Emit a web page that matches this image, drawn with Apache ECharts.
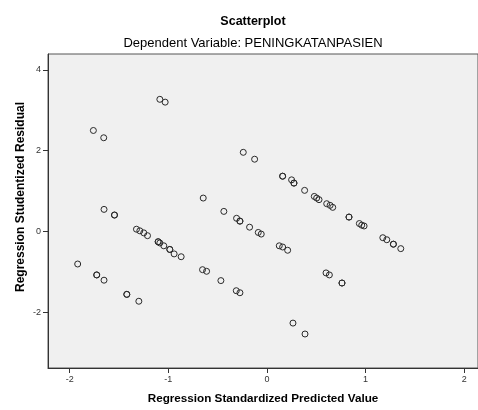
<!DOCTYPE html>
<html>
<head>
<meta charset="utf-8">
<script src="https://cdn.jsdelivr.net/npm/echarts@6/dist/echarts.min.js"></script>
<style>html,body{margin:0;padding:0;background:#fff}#c{width:478px;height:410px}</style>
</head>
<body>
<div id="c"></div>
<script>
const predicted = [
 -1.086,-1.032,-1.76,-1.655,-0.24,-0.125,-0.646,-0.437,-0.308,-0.274,-0.274,-0.176,-0.088,-0.058,
 -1.652,-1.546,-1.546,-1.323,-1.289,-1.249,-1.211,-1.103,-1.103,-1.086,-1.046,-0.985,-0.985,-0.941,-0.870,
 -1.919,-1.726,-1.726,-1.652,-1.421,-1.421,-1.299,-0.653,-0.612,-0.467,-0.311,-0.274,
 0.159,0.159,0.25,0.274,0.274,0.382,0.48,0.504,0.528,0.606,0.64,0.667,0.832,0.832,0.937,0.961,0.985,
 0.125,0.159,0.21,0.599,0.633,0.761,0.761,1.175,1.215,1.282,1.282,1.357,0.264,0.386
];
const residual = [
 3.27,3.20,2.50,2.32,1.96,1.79,0.83,0.50,0.33,0.26,0.26,0.11,-0.02,-0.06,
 0.55,0.41,0.41,0.06,0.02,-0.03,-0.10,-0.25,-0.25,-0.28,-0.35,-0.44,-0.44,-0.55,-0.62,
 -0.80,-1.07,-1.07,-1.20,-1.55,-1.55,-1.72,-0.94,-0.98,-1.21,-1.46,-1.51,
 1.37,1.37,1.28,1.20,1.20,1.02,0.87,0.83,0.79,0.69,0.65,0.60,0.36,0.36,0.20,0.16,0.14,
 -0.35,-0.38,-0.46,-1.02,-1.07,-1.27,-1.27,-0.15,-0.20,-0.31,-0.31,-0.42,-2.26,-2.53
];
const xTicks = [-2,-1,0,1,2];
const yTicks = [-2,0,2,4];

const points = predicted.map((v,i)=>[v,residual[i]]);
const chart = echarts.init(document.getElementById('c'), null, {renderer:'canvas'});
const font = 'Arial, "Liberation Sans", sans-serif';
chart.setOption({
  animation:false,
  backgroundColor:'#fff',
  title:[
    {text:'Scatterplot', left:248, top:10, textAlign:'center',
     textStyle:{fontSize:12.5,fontWeight:'bold',color:'#000',fontFamily:font}},
    {text:'Dependent Variable: PENINGKATANPASIEN', left:248, top:32, textAlign:'center',
     textStyle:{fontSize:13,fontWeight:'normal',color:'#000',fontFamily:font}}
  ],
  grid:{left:48, right:-2, top:54, bottom:38, show:true, backgroundColor:'#f0f0f0', borderColor:'#555', borderWidth:1},
  xAxis:{
    type:'value', min:-2.22, max:2.14,
    name:'Regression Standardized Predicted Value', nameLocation:'middle', nameGap:25,
    nameTextStyle:{fontSize:11.7,fontWeight:'bold',color:'#000',fontFamily:font},
    axisLine:{show:true,onZero:false,lineStyle:{color:'#333',width:1}},
    axisTick:{show:true,length:5,lineStyle:{color:'#333'},customValues:xTicks},
    axisLabel:{fontSize:9,color:'#333',margin:7,fontFamily:font,customValues:xTicks},
    splitLine:{show:false}
  },
  yAxis:{
    type:'value', min:-3.37, max:4.39,
    axisLine:{show:true,onZero:false,lineStyle:{color:'#333',width:1}},
    axisTick:{show:true,length:5,lineStyle:{color:'#333'},customValues:yTicks},
    axisLabel:{fontSize:9,color:'#333',margin:7,fontFamily:font,customValues:yTicks},
    splitLine:{show:false}
  },
  graphic:[{
    type:'text', x:21, y:197, rotation:Math.PI/2,
    style:{text:'Regression Studentized Residual',
      font:'bold 12px Arial, "Liberation Sans", sans-serif', fill:'#000', align:'center', verticalAlign:'middle'}
  }],
  series:[{
    type:'scatter', data:points, symbol:'circle', symbolSize:6,
    itemStyle:{color:'rgba(0,0,0,0)', borderColor:'#2a2a2a', borderWidth:1, opacity:1}
  }]
});
</script>
</body>
</html>
